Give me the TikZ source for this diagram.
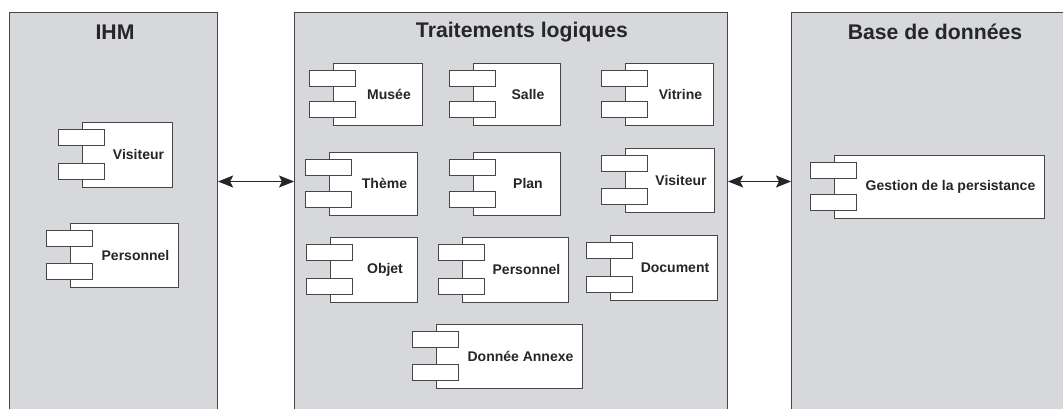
\documentclass[tikz,border=0pt]{standalone}
\usepackage{fontspec}
\setmainfont{Liberation Sans}
\usetikzlibrary{arrows.meta,calc}
\definecolor{panelfill}{RGB}{214,216,219}
\definecolor{edgegray}{RGB}{70,70,70}
\begin{document}
\begin{tikzpicture}[x=1pt,y=-1pt,
  panel/.style={draw=edgegray,line width=1.1pt,fill=panelfill,rectangle,inner sep=0pt},
  paneltitle/.style={font=\fontsize{21.2}{23}\selectfont\bfseries,text=black!85,inner sep=0pt},
  comp/.style={draw=edgegray,line width=0.7pt,fill=white,rectangle,inner sep=0pt,
    font=\fontsize{14}{15}\selectfont\bfseries,text=black!85,
    execute at begin node={\hspace*{23pt}}},
  tab/.style={draw=edgegray,line width=0.7pt,fill=white},
  link/.style={draw=black!85,line width=1.3pt,
    {Stealth[length=15pt,width=12pt,inset=3pt]}-{Stealth[length=15pt,width=12pt,inset=3pt]}}
]
\useasboundingbox (0,0) rectangle (1063,409);
\clip (0,0) rectangle (1063,409);
\fill[white] (0,0) rectangle (1063,409);

% the three layers
\node[panel,minimum width=208pt,minimum height=420pt,anchor=north west] (ihm) at (9,12) {};
\node[panel,minimum width=433pt,minimum height=420pt,anchor=north west] (tl) at (294,12) {};
\node[panel,minimum width=290pt,minimum height=420pt,anchor=north west] (bd) at (791,12) {};

\node[paneltitle] (ihmT) at (115,32) {IHM};
\node[paneltitle] (tlT) at (522,32) {Traitements logiques};
\node[paneltitle] (bdT) at (935,32) {Base de données};

% components: IHM
\node[comp,minimum width=90pt,minimum height=65pt] (ihmVis) at (127,154.5) {Visiteur};
\node[comp,minimum width=108pt,minimum height=64pt] (ihmPers) at (124,255) {Personnel};

% components: Traitements logiques
\node[comp,minimum width=89pt,minimum height=62pt] (musee) at (377.5,94) {Musée};
\node[comp,minimum width=87pt,minimum height=62pt] (salle) at (516.5,94) {Salle};
\node[comp,minimum width=88pt,minimum height=62pt] (vitrine) at (669,94) {Vitrine};
\node[comp,minimum width=88pt,minimum height=63pt] (theme) at (373,183.5) {Thème};
\node[comp,minimum width=87pt,minimum height=63pt] (plan) at (516.5,183.5) {Plan};
\node[comp,minimum width=89pt,minimum height=64pt] (tlVis) at (669.5,180) {Visiteur};
\node[comp,minimum width=87pt,minimum height=65pt] (objet) at (373.5,269.5) {Objet};
\node[comp,minimum width=106pt,minimum height=65pt] (tlPers) at (515,269.5) {Personnel};
\node[comp,minimum width=107pt,minimum height=65pt] (document) at (663.5,267.5) {Document};
\node[comp,minimum width=146pt,minimum height=64pt] (annexe) at (509,356) {Donnée Annexe};

% components: Base de données
\node[comp,minimum width=210pt,minimum height=63pt] (persist) at (939,186.5) {Gestion de la persistance};

% the two interface tabs of each component
\foreach \c in {ihmVis,ihmPers,musee,salle,vitrine,theme,plan,tlVis,objet,tlPers,document,annexe,persist}{
  \draw[tab] ($(\c.north west)+(-23,8)$) rectangle ++(46,16);
  \draw[tab] ($(\c.south west)+(-23,-24)$) rectangle ++(46,16);
}

% links between layers
\coordinate (lvl) at (0,181.5);
\draw[link] (ihm.east |- lvl) -- (tl.west |- lvl);
\draw[link] (tl.east |- lvl) -- (bd.west |- lvl);
\end{tikzpicture}
\end{document}
